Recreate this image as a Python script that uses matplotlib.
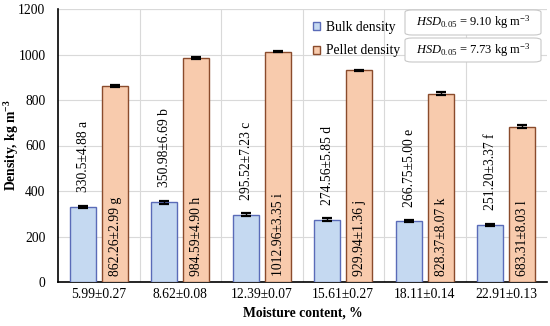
import matplotlib
matplotlib.use("Agg")
import matplotlib.pyplot as plt
import numpy as np
from matplotlib.patches import Patch, FancyBboxPatch

plt.rcParams['font.family'] = ['Liberation Serif', 'DejaVu Serif']
plt.rcParams['mathtext.fontset'] = 'custom'
plt.rcParams['mathtext.rm'] = 'Liberation Serif'
plt.rcParams['mathtext.it'] = 'Liberation Serif:italic'
plt.rcParams['mathtext.bf'] = 'Liberation Serif:bold'

categories = ["5.99±0.27", "8.62±0.08", "12.39±0.07", "15.61±0.27", "18.11±0.14", "22.91±0.13"]
bulk = [330.5, 350.98, 295.52, 274.56, 266.75, 251.20]
bulk_err = [4.88, 6.69, 7.23, 5.85, 5.00, 3.37]
pellet = [862.26, 984.59, 1012.96, 929.94, 828.37, 683.31]
pellet_err = [2.99, 4.90, 3.35, 1.36, 8.07, 8.03]
bulk_label_txt = ["330.5±4.88 a", "350.98±6.69 b", "295.52±7.23 c",
                  "274.56±5.85 d", "266.75±5.00 e", "251.20±3.37 f"]
pellet_label_txt = ["862.26±2.99 g", "984.59±4.90 h", "1012.96±3.35 i",
                    "929.94±1.36 j", "828.37±8.07 k", "683.31±8.03 l"]
hsd_bulk = "9.10"
hsd_pellet = "7.73"

fig = plt.figure(figsize=(5.5, 3.26), dpi=100)
ax = fig.add_axes([58/550, 1-282/326, (547-58)/550, (282-9)/326])

x = np.arange(len(categories))
w = 0.32
off = 0.195
bulk_fc, bulk_ec = "#c5d9f1", "#5a6bb8"
pel_fc, pel_ec = "#f8cbad", "#8a4b2c"
FS = 9.8

ax.bar(x - off, bulk, w, color=bulk_fc, edgecolor=bulk_ec, linewidth=1.0, zorder=3)
ax.bar(x + off, pellet, w, color=pel_fc, edgecolor=pel_ec, linewidth=1.0, zorder=3)
ax.errorbar(x - off, bulk, yerr=bulk_err, fmt='none', ecolor='black', capsize=3.5, elinewidth=1, capthick=1.6, zorder=4)
ax.errorbar(x + off, pellet, yerr=pellet_err, fmt='none', ecolor='black', capsize=3.5, elinewidth=1, capthick=1.6, zorder=4)

for i in range(len(categories)):
    ax.text(x[i] - off + 0.005, bulk[i] + 65, bulk_label_txt[i], rotation=90,
            ha='center', va='bottom', fontsize=FS, zorder=5)
    ax.text(x[i] + off + 0.01, 25, pellet_label_txt[i], rotation=90,
            ha='center', va='bottom', fontsize=FS, zorder=5)

ax.set_xlim(-0.5, len(categories) - 0.5)
ax.set_ylim(0, 1200)
ax.set_yticks(np.arange(0, 1201, 200))
ax.set_xticks(x)
ax.set_xticklabels(categories, fontsize=FS)
ax.tick_params(axis='both', length=0, labelsize=FS)
ax.tick_params(axis='x', pad=4)
ax.tick_params(axis='y', pad=9)

ax.grid(axis='y', color='#d9d9d9', linewidth=0.8, zorder=0)
for b in np.arange(0.5, len(categories) - 0.5, 1):
    ax.axvline(b, color='#d9d9d9', linewidth=0.8, zorder=0)
ax.axhline(1200, color='#d9d9d9', linewidth=0.8, zorder=0)

for s in ['top', 'right']:
    ax.spines[s].set_visible(False)
ax.spines['left'].set_color('black')
ax.spines['bottom'].set_color('black')
ax.spines['left'].set_linewidth(1.2)
ax.spines['bottom'].set_linewidth(1.2)

ax.set_ylabel("Density, kg m$^{\\mathbf{-3}}$", fontsize=FS, fontweight='bold')
ax.set_xlabel("Moisture content, %", fontsize=FS, fontweight='bold')
ax.xaxis.set_label_coords(0.5, -0.088)
ax.yaxis.set_label_coords(-0.076, 0.5)

handles = [Patch(facecolor=bulk_fc, edgecolor=bulk_ec, label="Bulk density"),
           Patch(facecolor=pel_fc, edgecolor=pel_ec, label="Pellet density")]
ax.legend(handles=handles, loc='upper left', bbox_to_anchor=(0.497, 1.0), frameon=False,
          fontsize=FS, handlelength=0.55, handleheight=0.55, handletextpad=0.4,
          labelspacing=0.8, borderaxespad=0.45)

box_x0, box_w = (405-58)/489, 136/489
for (ytop, ybot, val) in [(10, 35, hsd_bulk), (38, 62, hsd_pellet)]:
    y0 = (282-ybot)/273
    h = (ybot-ytop)/273
    p = FancyBboxPatch((box_x0, y0), box_w, h, transform=ax.transAxes,
                       boxstyle='round,pad=0,rounding_size=0.015', mutation_aspect=273/489,
                       facecolor='white', edgecolor='#c8c8c8', linewidth=0.8, zorder=6, clip_on=False)
    ax.add_patch(p)
    ax.text(box_x0 + box_w/2, y0 + h/2, "$HSD_{\\mathrm{0.05}}$ = " + val + " kg m$^{-3}$",
            transform=ax.transAxes, ha='center', va='center', fontsize=9, zorder=7)

fig.savefig("out.png", dpi=100)
